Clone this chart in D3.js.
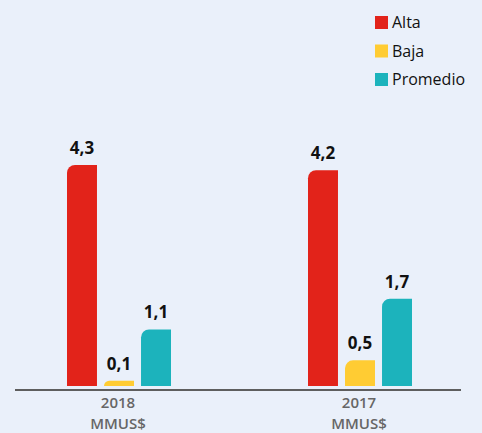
<!DOCTYPE html>
<html>
<head>
<meta charset="utf-8">
<script src="https://cdn.jsdelivr.net/npm/d3@7"></script>
<style>
  html, body { margin: 0; padding: 0; background: #EAF0FA; }
  svg { display: block; font-family: "Open Sans", "Noto Sans", sans-serif; }
</style>
</head>
<body>
<svg id="chart" width="482" height="433"></svg>
<script>
// Years shown along the axis, and the unit line under each year
const years = ["2018", "2017"];
const unit = "MMUS$";
// Series names and colours
const series = ["Alta", "Baja", "Promedio"];
const colors = ["#E2231A", "#FFCC33", "#1CB3BC"];
// Values per series, one per year (same order as `years`)
const alta = [4.3, 4.2];
const baja = [0.1, 0.5];
const promedio = [1.1, 1.7];

const values = [alta, baja, promedio];
const rows = [];
years.forEach((yr, i) => {
  series.forEach((s, j) => rows.push({ year: yr, series: s, value: values[j][i], color: colors[j] }));
});

const svg = d3.select("#chart");
const baseY = 386;

const x0 = d3.scaleBand().domain(years).range([-1.5, 480.5]).padding(0);
const x1 = d3.scaleBand().domain(series).range([-52, 52]).paddingInner(0.19).paddingOuter(0);
const y = d3.scaleLinear().domain([0, 4.3]).range([baseY, 165]);

const fmt = v => d3.format(".1f")(v).replace(".", ",");

// Bar shape: flat bottom, only the top-left corner is rounded
function barPath(x, top, w, h) {
  const r = Math.min(8, h, w);
  return `M${x},${top + h}V${top + r}A${r},${r} 0 0 1 ${x + r},${top}H${x + w}V${top + h}Z`;
}

const g = svg.append("g");
g.selectAll("path.bar").data(rows).join("path")
  .attr("class", "bar")
  .attr("fill", d => d.color)
  .attr("d", d => {
    const bx = x0(d.year) + x0.bandwidth() / 2 + x1(d.series);
    const top = y(d.value);
    return barPath(bx, top, x1.bandwidth(), baseY - top);
  });

g.selectAll("text.val").data(rows).join("text")
  .attr("class", "val")
  .attr("x", d => x0(d.year) + x0.bandwidth() / 2 + x1(d.series) + x1.bandwidth() / 2)
  .attr("y", d => y(d.value) - 11)
  .attr("text-anchor", "middle")
  .attr("font-size", 17)
  .attr("font-weight", 700)
  .attr("fill", "#111")
  .text(d => fmt(d.value));

// Baseline
svg.append("line")
  .attr("x1", 15).attr("x2", 461)
  .attr("y1", 390).attr("y2", 390)
  .attr("stroke", "#5E5E5E").attr("stroke-width", 2);

// Category axis (labels only, two lines each)
const axis = svg.append("g")
  .attr("transform", "translate(0,390)")
  .call(d3.axisBottom(x0).tickSize(0).tickPadding(0));
axis.select(".domain").remove();
axis.selectAll(".tick text").each(function(d) {
  const t = d3.select(this);
  t.text(null)
    .attr("y", 0).attr("dy", null)
    .attr("font-family", "'Open Sans', sans-serif")
    .attr("font-size", 15)
    .attr("font-weight", 600)
    .attr("fill", "#666");
  t.append("tspan").attr("x", -1).attr("y", 18).text(d);
  t.append("tspan").attr("x", -1).attr("y", 38.5).text(unit);
});

// Legend
const lg = svg.append("g").selectAll("g").data(series).join("g")
  .attr("transform", (d, i) => `translate(375,${16 + i * 28.5})`);
lg.append("rect").attr("width", 13).attr("height", 13).attr("fill", (d, i) => colors[i]);
lg.append("text")
  .attr("x", 17).attr("y", 12)
  .attr("font-size", 16)
  .attr("fill", "#111")
  .text(d => d);
</script>
</body>
</html>
